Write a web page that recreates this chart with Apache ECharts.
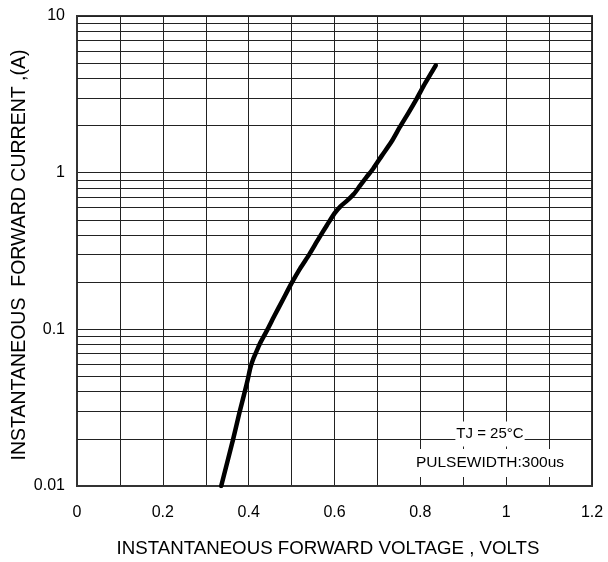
<!DOCTYPE html>
<html>
<head>
<meta charset="utf-8">
<script src="https://cdn.jsdelivr.net/npm/echarts@6/dist/echarts.min.js"></script>
<style>
html,body{margin:0;padding:0;background:#fff;}
#c{width:608px;height:562px;}
</style>
</head>
<body>
<div id="c"></div>
<script>
// Forward voltage (V) and forward current (A)
const voltage = [0.336, 0.364, 0.378, 0.391, 0.398, 0.404, 0.410, 0.417, 0.426, 0.444, 0.460, 0.480, 0.500, 0.520, 0.541, 0.562, 0.582, 0.600, 0.614, 0.630, 0.645, 0.660, 0.675, 0.690, 0.710, 0.733, 0.752, 0.772, 0.791, 0.812, 0.836];
const current = [0.010, 0.020, 0.029, 0.040, 0.048, 0.057, 0.064, 0.071, 0.081, 0.100, 0.122, 0.155, 0.197, 0.245, 0.300, 0.375, 0.460, 0.550, 0.610, 0.665, 0.730, 0.830, 0.940, 1.06, 1.28, 1.58, 1.95, 2.40, 2.95, 3.75, 4.84];

const xTickLabels = ['0', '0.2', '0.4', '0.6', '0.8', '1', '1.2'];
const yTickLabels = ['0.01', '0.1', '1', '10'];
const yMinorGrid = [0.02,0.03,0.04,0.05,0.06,0.07,0.08,0.09, 0.2,0.3,0.4,0.5,0.6,0.7,0.8,0.9, 2,3,4,5,6,7,8,9];

const xTitle = 'INSTANTANEOUS FORWARD VOLTAGE , VOLTS';
const yTitle = 'INSTANTANEOUS  FORWARD CURRENT ,(A)';
const note1 = 'TJ = 25°C';
const note2 = 'PULSEWIDTH:300us';

const FONT = "'Liberation Sans', Arial, Helvetica, sans-serif";
const GRIDC = '#222';

const chart = echarts.init(document.getElementById('c'), null, {renderer: 'canvas'});
chart.setOption({
  animation: false,
  backgroundColor: '#fff',
  grid: {left: 77, right: 16, top: 16, bottom: 76, show: true, borderColor: '#333', borderWidth: 2, backgroundColor: 'transparent'},
  xAxis: {
    type: 'value', min: 0, max: 1.2, interval: 0.1,
    axisLine: {show: true, lineStyle: {color: '#333', width: 2}},
    axisTick: {show: false},
    splitLine: {show: true, lineStyle: {color: GRIDC, width: 1}},
    axisLabel: {
      color: '#000', fontFamily: FONT, fontSize: 16, margin: 19,
      formatter: v => { const k = Math.round(v * 10); return k % 2 === 0 ? xTickLabels[k / 2] : ''; }
    }
  },
  yAxis: {
    type: 'log', logBase: 10, min: 0.01, max: 10,
    axisLine: {show: true, lineStyle: {color: '#333', width: 2}},
    axisTick: {show: false},
    splitLine: {show: true, lineStyle: {color: GRIDC, width: 1}},
    minorTick: {show: false},
    axisLabel: {
      color: '#000', fontFamily: FONT, fontSize: 16, margin: 12,
      formatter: v => { const r = Math.round(Math.log10(v)) + 2; return yTickLabels[r] || ''; }
    }
  },
  graphic: [
    {type: 'text', z: 100, x: 328, y: 549, style: {text: xTitle, font: '18.7px ' + FONT, fill: '#000', align: 'center', verticalAlign: 'middle'}},
    {type: 'text', z: 100, x: 20, y: 255, rotation: Math.PI / 2, style: {text: yTitle, font: '19.5px ' + FONT, fill: '#000', align: 'center', verticalAlign: 'middle'}},
    {type: 'text', z: 100, x: 490, y: 434, style: {text: note1, font: '15px ' + FONT, fill: '#000', align: 'center', verticalAlign: 'middle', backgroundColor: '#fff', padding: [5, 1, 5, 1]}},
    {type: 'text', z: 100, x: 490, y: 463, style: {text: note2, font: '15.5px ' + FONT, fill: '#000', align: 'center', verticalAlign: 'middle', backgroundColor: '#fff', padding: [6, 1, 6, 1]}}
  ],
  series: [{
    type: 'line',
    data: voltage.map((v, i) => [v, current[i]]),
    showSymbol: false, symbol: 'none',
    smooth: 0.25,
    lineStyle: {color: '#000', width: 4.5, cap: 'round', join: 'round'},
    z: 5,
    markLine: {
      silent: true, symbol: ['none', 'none'], animation: false,
      label: {show: false},
      lineStyle: {color: GRIDC, width: 1, type: 'solid'},
      emphasis: {disabled: true},
      data: yMinorGrid.map(v => ({yAxis: v}))
    }
  }]
});
</script>
</body>
</html>
